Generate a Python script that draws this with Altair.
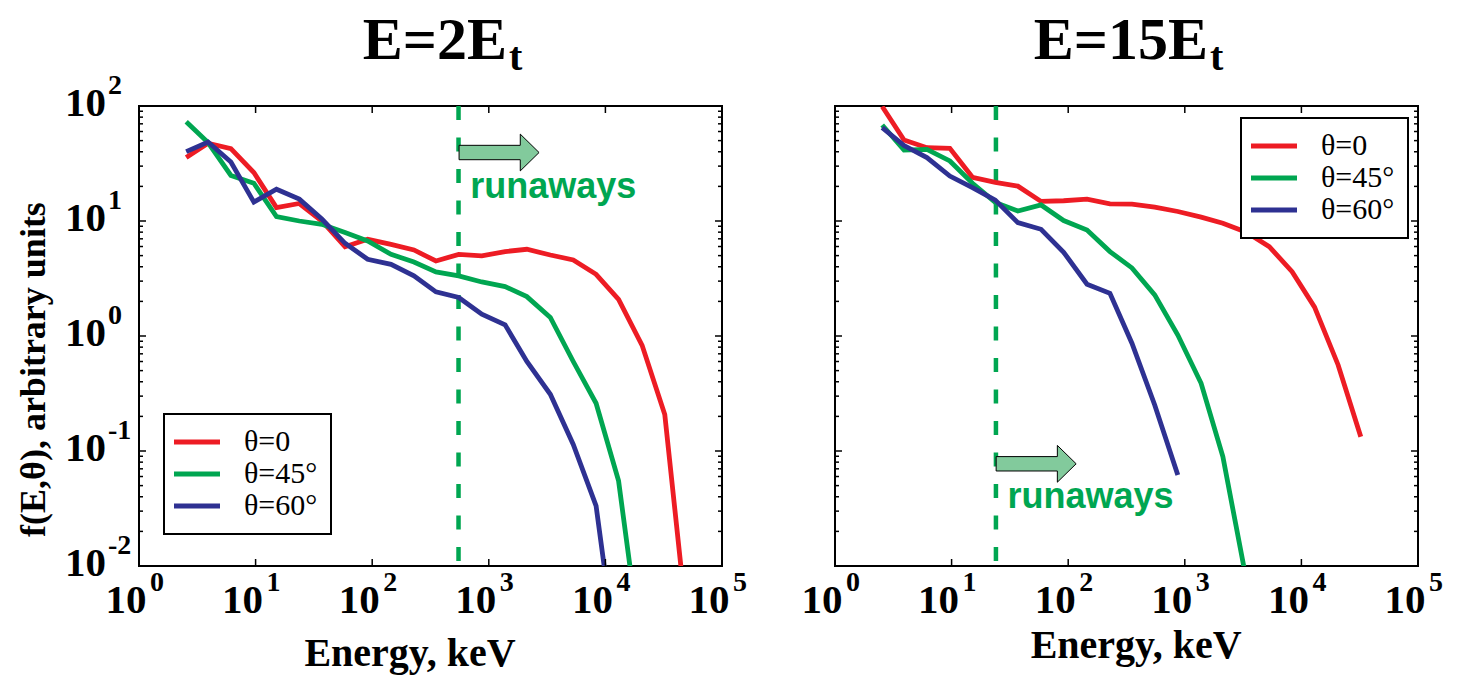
import altair as alt
import pandas as pd

# Energy grid in keV, shared by every curve
energy = [2.54, 3.91, 6.14, 9.66, 15.1, 23.7, 37.0, 58.5, 91.4, 145, 228, 352,
          552, 871, 1380, 2120, 3370, 5300, 8320, 12970, 20650, 32300, 50700]

theta_labels = ["θ=0", "θ=45°", "θ=60°"]
line_colors = ["#ed1c24", "#00a651", "#2e3192"]

# f(E, θ) for E = 2 E_t
f2_theta0 = [35.6, 47.4, 42.6, 26.4, 13.1, 14.2, 10.0, 5.98, 6.93, 6.27, 5.60, 4.49,
             5.13, 4.97, 5.42, 5.68, 5.06, 4.58, 3.44, 2.08, 0.83, 0.208, 0.0028]
f2_theta45 = [73.1, 48.1, 24.9, 21.3, 10.9, 10.0, 9.35, 7.93, 6.70, 5.13, 4.40, 3.61,
              3.33, 2.95, 2.69, 2.20, 1.45, 0.60, 0.26, 0.055, 0.0016]
f2_theta60 = [40.1, 48.6, 32.6, 14.6, 18.9, 15.5, 10.4, 6.40, 4.65, 4.20, 3.33, 2.42,
              2.16, 1.55, 1.25, 0.60, 0.311, 0.114, 0.0333, 0.00117]

# f(E, θ) for E = 15 E_t
f15_theta0 = [98.9, 50.6, 43.4, 42.9, 24.0, 21.7, 20.1, 14.8, 15.0, 15.5, 14.1, 14.0,
              13.2, 12.1, 10.8, 9.55, 7.98, 5.98, 3.63, 1.78, 0.56, 0.133]
f15_theta45 = [68.4, 41.4, 42.0, 33.3, 21.3, 14.5, 12.2, 13.8, 10.1, 8.36, 5.42, 3.91,
               2.28, 1.02, 0.388, 0.0893, 0.0076]
f15_theta60 = [64.9, 45.3, 35.6, 24.6, 19.5, 15.2, 9.68, 8.47, 5.35, 2.82, 2.35, 0.865,
               0.251, 0.0618]

# Runaway threshold energy (keV) for each field
runaway_energy = [550, 24]
# Arrow centre (E, f) and text anchor (E, f) for the "runaways" note
arrow_E = [1225, 53.1]
arrow_f = [39.4, 0.0774]
note_E = [692, 30.1]
note_f = [16.0, 0.0318]

panel_titles = ["E=2E", "E=15E"]
title_sub = "t"

# Axis tick values
x_major = [1, 10, 100, 1000, 10000, 100000]
x_exp = ["0", "1", "2", "3", "4", "5"]
y_major = [0.01, 0.1, 1, 10, 100]
y_exp = ["-2", "-1", "0", "1", "2"]
y_minor = [m * 10.0 ** d for d in range(-2, 2) for m in range(2, 10)]

SERIF = "Liberation Serif"
SANS = "Liberation Sans"
GREEN = "#00a651"
W, H = 583, 460

xscale = alt.Scale(type="log", domain=[1, 1e5], nice=False)
yscale = alt.Scale(type="log", domain=[0.01, 100], nice=False)

ARROW = "M-1,-0.18L0.53,-0.18L0.53,-0.46L1,0L0.53,0.46L0.53,0.18L-1,0.18Z"
# legend swatch: a long horizontal stroke reaching to the left of the symbol column
SWATCH = "M-1.8,0L2.8,0"

BARE = dict(labels=False, ticks=False, domain=False, grid=False)


def curves_frame(series):
    rows = []
    for label, values in zip(theta_labels, series):
        for e, f in zip(energy, values):
            rows.append({"theta": label, "E": e, "f": f})
    return pd.DataFrame(rows)


def panel(idx, series, show_ylabels, legend_xy, title_right, xtitle_x, xtitle_y):
    xaxis = alt.Axis(title="Energy, keV", titleFont=SERIF, titleFontSize=40,
                     titleFontWeight="bold", titleColor="black", titleX=xtitle_x,
                     titleY=xtitle_y, titleBaseline="top", titleAlign="center", **BARE)
    if show_ylabels:
        yaxis = alt.Axis(title="f(E,θ), arbitrary units", titleFont=SERIF,
                         titleFontSize=36, titleFontWeight="bold", titleColor="black",
                         titleAngle=270, titleX=-95, titleY=263,
                         titleBaseline="alphabetic", titleAlign="center", **BARE)
    else:
        yaxis = alt.Axis(title=None, **BARE)

    def X(field):
        return alt.X(field, scale=xscale, axis=xaxis)

    def Y(field):
        return alt.Y(field, scale=yscale, axis=yaxis)

    df = curves_frame(series)
    lines = alt.Chart(df).mark_line(strokeWidth=4.8, clip=True).encode(
        x=X("E:Q"),
        y=Y("f:Q"),
        color=alt.Color("theta:N",
                        scale=alt.Scale(domain=theta_labels, range=line_colors),
                        legend=alt.Legend(title=None, orient="none",
                                          legendX=legend_xy[0], legendY=legend_xy[1])),
    )

    thr = pd.DataFrame({"E": [runaway_energy[idx]]})
    threshold = alt.Chart(thr).mark_rule(color=GREEN, strokeWidth=4.5,
                                         strokeDash=[14, 17.5]).encode(
        x=X("E:Q"), y=alt.value(0), y2=alt.value(H))

    arr = pd.DataFrame({"E": [arrow_E[idx]], "f": [arrow_f[idx]]})
    arrow = alt.Chart(arr).mark_point(shape=ARROW, size=6400, filled=True,
                                      fill="#82ca9c", fillOpacity=1, stroke="black",
                                      strokeWidth=1, opacity=1).encode(
        x=X("E:Q"), y=Y("f:Q"))

    nt = pd.DataFrame({"E": [note_E[idx]], "f": [note_f[idx]], "t": ["runaways"]})
    note = alt.Chart(nt).mark_text(font=SANS, fontSize=36, fontWeight="bold",
                                   color=GREEN, align="left",
                                   baseline="alphabetic").encode(
        x=X("E:Q"), y=Y("f:Q"), text="t:N")

    # inward ticks on all four sides
    xm = pd.DataFrame({"v": x_major, "k": x_exp})
    ym = pd.DataFrame({"v": y_major, "k": y_exp})
    yn = pd.DataFrame({"v": y_minor})
    tick_style = dict(color="black", strokeWidth=1.5)
    xt_bottom = alt.Chart(xm).mark_rule(**tick_style).encode(
        x=X("v:Q"), y=alt.value(H), y2=alt.value(H - 7))
    xt_top = alt.Chart(xm).mark_rule(**tick_style).encode(
        x=X("v:Q"), y=alt.value(0), y2=alt.value(7))
    yt_left = alt.Chart(ym).mark_rule(**tick_style).encode(
        y=Y("v:Q"), x=alt.value(0), x2=alt.value(7))
    yt_right = alt.Chart(ym).mark_rule(**tick_style).encode(
        y=Y("v:Q"), x=alt.value(W), x2=alt.value(W - 7))
    yn_left = alt.Chart(yn).mark_rule(**tick_style).encode(
        y=Y("v:Q"), x=alt.value(0), x2=alt.value(4))
    yn_right = alt.Chart(yn).mark_rule(**tick_style).encode(
        y=Y("v:Q"), x=alt.value(W), x2=alt.value(W - 4))

    label_style = dict(font=SERIF, fontWeight="bold", color="black")
    x_ten = alt.Chart(xm).mark_text(fontSize=41, align="center", baseline="alphabetic",
                                    dx=-13, **label_style).encode(
        x=X("v:Q"), y=alt.value(H + 47), text=alt.value("10"))
    x_pow = alt.Chart(xm).mark_text(fontSize=28, align="left", baseline="alphabetic",
                                    dx=11, **label_style).encode(
        x=X("v:Q"), y=alt.value(H + 25), text="k:N")

    layers = [threshold, lines, arrow, note, xt_bottom, xt_top, yt_left, yt_right,
              yn_left, yn_right, x_ten, x_pow]

    if show_ylabels:
        y_ten = alt.Chart(ym).mark_text(fontSize=41, align="right",
                                        baseline="alphabetic", dy=10,
                                        **label_style).encode(
            y=Y("v:Q"), x=alt.value(-33), text=alt.value("10"))
        y_pow = alt.Chart(ym).mark_text(fontSize=28, align="left",
                                        baseline="alphabetic", dy=-12,
                                        **label_style).encode(
            y=Y("v:Q"), x=alt.value(-31), text="k:N")
        layers += [y_ten, y_pow]

    head = pd.DataFrame({"t": [panel_titles[idx]], "s": [title_sub]})
    title_main = alt.Chart(head).mark_text(font=SERIF, fontWeight="bold", fontSize=60,
                                           align="right", baseline="alphabetic",
                                           color="black").encode(
        x=alt.value(title_right), y=alt.value(-47), text="t:N")
    title_subs = alt.Chart(head).mark_text(font=SERIF, fontWeight="bold", fontSize=40,
                                           align="left", baseline="alphabetic",
                                           color="black").encode(
        x=alt.value(title_right + 2), y=alt.value(-36), text="s:N")
    layers += [title_main, title_subs]

    return alt.layer(*layers).properties(width=W, height=H)


left = panel(0, [f2_theta0, f2_theta45, f2_theta60], True, (25, 308), 368,
             270.5, 67)
right = panel(1, [f15_theta0, f15_theta45, f15_theta60], False, (406, 12), 373,
              300.7, 59)

chart = (
    alt.hconcat(left, right, spacing=113, bounds="flush")
    .resolve_scale(color="independent")
    .resolve_legend(color="independent")
    .properties(padding={"left": 14, "top": 10, "right": 10, "bottom": 5},
                background="white")
    .configure_view(stroke="black", strokeWidth=2)
    .configure_legend(labelFont=SERIF, labelFontSize=30, labelColor="black",
                      labelLimit=300, labelOffset=37, symbolType=SWATCH,
                      symbolSize=400, symbolStrokeWidth=4.8, padding=13,
                      rowPadding=2, strokeColor="black", strokeWidth=2,
                      fillColor="white")
)

chart.save("out.html", embed_options={"renderer": "svg", "actions": False})
